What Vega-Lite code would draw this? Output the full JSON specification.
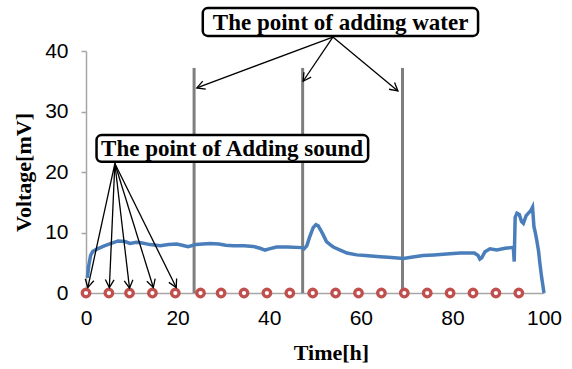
{
  "$schema": "https://vega.github.io/schema/vega-lite/v6.json",
  "width": 458,
  "height": 242,
  "autosize": {"type": "none"},
  "padding": {"left": 86, "top": 51, "right": 28, "bottom": 76},
  "background": "white",
  "config": {
    "view": {"stroke": null},
    "axis": {
      "labelFont": "Liberation Sans",
      "labelFontSize": 21,
      "labelColor": "black",
      "labelFlush": false,
      "labelOverlap": false,
      "titleFont": "Liberation Serif",
      "titleFontSize": 22,
      "titleFontWeight": "bold",
      "titleColor": "black",
      "domainColor": "#a6a6a6",
      "domainWidth": 1.5,
      "tickColor": "#a6a6a6",
      "tickWidth": 1.5,
      "grid": false
    }
  },
  "datasets": {
    "voltage": [
      {"t": 0.3, "v": 2.5}, {"t": 0.6, "v": 4.5}, {"t": 1.0, "v": 6.2}, {"t": 1.5, "v": 6.9},
      {"t": 2.5, "v": 7.3}, {"t": 4, "v": 7.8}, {"t": 5.5, "v": 8.2}, {"t": 7, "v": 8.6},
      {"t": 8.5, "v": 8.5}, {"t": 9.6, "v": 8.2}, {"t": 11, "v": 8.4}, {"t": 12, "v": 8.3},
      {"t": 14, "v": 8.0}, {"t": 16.2, "v": 7.8}, {"t": 18, "v": 8.0}, {"t": 19.8, "v": 8.1},
      {"t": 21, "v": 7.9}, {"t": 22.3, "v": 7.65}, {"t": 24, "v": 8.0}, {"t": 25.5, "v": 8.1},
      {"t": 27.1, "v": 8.2}, {"t": 29, "v": 8.1}, {"t": 30.5, "v": 7.9}, {"t": 32.2, "v": 7.8},
      {"t": 34.5, "v": 7.8}, {"t": 36.5, "v": 7.7}, {"t": 38, "v": 7.4}, {"t": 39.1, "v": 7.1},
      {"t": 40, "v": 7.3}, {"t": 41.6, "v": 7.6}, {"t": 44, "v": 7.6}, {"t": 47.1, "v": 7.5},
      {"t": 47.6, "v": 7.3}, {"t": 48.2, "v": 7.8}, {"t": 48.8, "v": 9.2}, {"t": 49.6, "v": 10.8},
      {"t": 50.2, "v": 11.3}, {"t": 50.7, "v": 11.1}, {"t": 51.3, "v": 10.3}, {"t": 51.8, "v": 9.6},
      {"t": 52.5, "v": 8.5}, {"t": 53.3, "v": 8.0}, {"t": 54, "v": 7.6}, {"t": 55.5, "v": 7.1},
      {"t": 57, "v": 6.6}, {"t": 59.1, "v": 6.3}, {"t": 61, "v": 6.2}, {"t": 64.2, "v": 6.0},
      {"t": 66, "v": 5.9}, {"t": 69.3, "v": 5.7}, {"t": 71, "v": 5.9}, {"t": 73.6, "v": 6.2},
      {"t": 76, "v": 6.3}, {"t": 78, "v": 6.4}, {"t": 81.7, "v": 6.6}, {"t": 84.8, "v": 6.6},
      {"t": 85.6, "v": 6.2}, {"t": 86.0, "v": 5.6}, {"t": 86.4, "v": 5.8}, {"t": 87.1, "v": 6.8},
      {"t": 88.2, "v": 7.3}, {"t": 89.7, "v": 7.1}, {"t": 91.5, "v": 7.4}, {"t": 93.3, "v": 7.55},
      {"t": 93.5, "v": 5.2}, {"t": 93.7, "v": 12.5}, {"t": 94.1, "v": 13.2}, {"t": 94.6, "v": 13.0},
      {"t": 95.1, "v": 11.8}, {"t": 95.5, "v": 11.5}, {"t": 96.1, "v": 12.8}, {"t": 96.6, "v": 13.2},
      {"t": 97.1, "v": 13.6}, {"t": 97.5, "v": 14.2}, {"t": 97.8, "v": 11.0}, {"t": 98.1, "v": 10.0},
      {"t": 98.4, "v": 8.8}, {"t": 98.8, "v": 7.0}, {"t": 99.1, "v": 4.9}, {"t": 99.5, "v": 2.5},
      {"t": 100, "v": 0}
    ],
    "sound": [
      {"t": 0}, {"t": 5}, {"t": 9.5}, {"t": 14.5}, {"t": 19.5}, {"t": 25}, {"t": 29.5},
      {"t": 34.5}, {"t": 39.5}, {"t": 44.5}, {"t": 49.5}, {"t": 54.5}, {"t": 59.5},
      {"t": 64.5}, {"t": 69.5}, {"t": 74.5}, {"t": 79.5}, {"t": 84.5}, {"t": 89.5}, {"t": 94.5}
    ],
    "water": [
      {"t": 23.6, "v0": 0, "v1": 37.2},
      {"t": 47.3, "v0": 0, "v1": 37.2},
      {"t": 69.1, "v0": 0, "v1": 37.2}
    ],
    "arrows": [
      {"x": 53.9, "y": 42.3, "x2": 24.2, "y2": 33.9},
      {"x": 53.9, "y": 42.3, "x2": 47.4, "y2": 35.0},
      {"x": 53.9, "y": 42.3, "x2": 68.1, "y2": 33.4},
      {"x": 6.3, "y": 21.4, "x2": 0.4, "y2": 0.9},
      {"x": 6.3, "y": 21.4, "x2": 5.1, "y2": 0.9},
      {"x": 6.3, "y": 21.4, "x2": 9.5, "y2": 0.8},
      {"x": 6.3, "y": 21.4, "x2": 14.7, "y2": 0.9},
      {"x": 6.3, "y": 21.4, "x2": 19.7, "y2": 0.9}
    ],
    "boxes": [
      {"label": "The point of adding water", "x0": 25.5, "x1": 85.6, "y0": 42.5, "y1": 47.1, "xc": 55.6, "yc": 44.8},
      {"label": "The point of Adding sound", "x0": 2.3, "x1": 61.6, "y0": 21.7, "y1": 26.1, "xc": 31.9, "yc": 23.9}
    ]
  },
  "layer": [
    {
      "data": {"name": "water"},
      "mark": {"type": "rule", "color": "#7f7f7f", "strokeWidth": 3},
      "encoding": {
        "x": {"field": "t", "type": "quantitative", "scale": {"domain": [0, 100]},
              "axis": {"title": "Time[h]", "values": [0, 20, 40, 60, 80, 100], "ticks": false, "labelPadding": 14, "titlePadding": 14, "titleX": 245}},
        "y": {"field": "v0", "type": "quantitative", "scale": {"domain": [0, 40]},
              "axis": {"title": "Voltage[mV]", "values": [0, 10, 20, 30, 40], "tickSize": 5, "labelPadding": 13, "titlePadding": 9}},
        "y2": {"field": "v1"}
      }
    },
    {
      "data": {"name": "voltage"},
      "mark": {"type": "line", "color": "#4a7ebb", "strokeWidth": 3.5},
      "encoding": {
        "x": {"field": "t", "type": "quantitative"},
        "y": {"field": "v", "type": "quantitative"}
      }
    },
    {
      "data": {"name": "sound"},
      "mark": {"type": "point", "shape": "circle", "filled": false, "fill": "white", "fillOpacity": 1, "stroke": "#c0504d", "strokeWidth": 3.3, "size": 57, "opacity": 1},
      "encoding": {
        "x": {"field": "t", "type": "quantitative"},
        "y": {"datum": 0, "type": "quantitative"}
      }
    },
    {
      "data": {"name": "arrows"},
      "mark": {"type": "rule", "color": "black", "strokeWidth": 1.3},
      "encoding": {
        "x": {"field": "x", "type": "quantitative"},
        "y": {"field": "y", "type": "quantitative"},
        "x2": {"field": "x2"},
        "y2": {"field": "y2"}
      }
    },
    {
      "data": {"name": "arrows"},
      "transform": [
        {"calculate": "atan2((datum.x2 - datum.x) * 4.58, (datum.y2 - datum.y) * 6.05) * 180 / PI", "as": "ang"}
      ],
      "mark": {"type": "point", "shape": "M-0.55,1 L0,0 L0.55,1", "filled": false, "stroke": "black", "strokeWidth": 1.3, "size": 250, "opacity": 1},
      "encoding": {
        "x": {"field": "x2", "type": "quantitative"},
        "y": {"field": "y2", "type": "quantitative"},
        "angle": {"field": "ang", "type": "quantitative", "scale": null}
      }
    },
    {
      "data": {"name": "boxes"},
      "mark": {"type": "rect", "fill": "white", "stroke": "black", "strokeWidth": 2.5, "cornerRadius": 5},
      "encoding": {
        "x": {"field": "x0", "type": "quantitative"},
        "x2": {"field": "x1"},
        "y": {"field": "y0", "type": "quantitative"},
        "y2": {"field": "y1"}
      }
    },
    {
      "data": {"name": "boxes"},
      "mark": {"type": "text", "font": "Liberation Serif", "fontWeight": "bold", "fontSize": 23, "color": "black", "align": "center", "baseline": "middle", "dy": 1},
      "encoding": {
        "x": {"field": "xc", "type": "quantitative"},
        "y": {"field": "yc", "type": "quantitative"},
        "text": {"field": "label"}
      }
    }
  ]
}
